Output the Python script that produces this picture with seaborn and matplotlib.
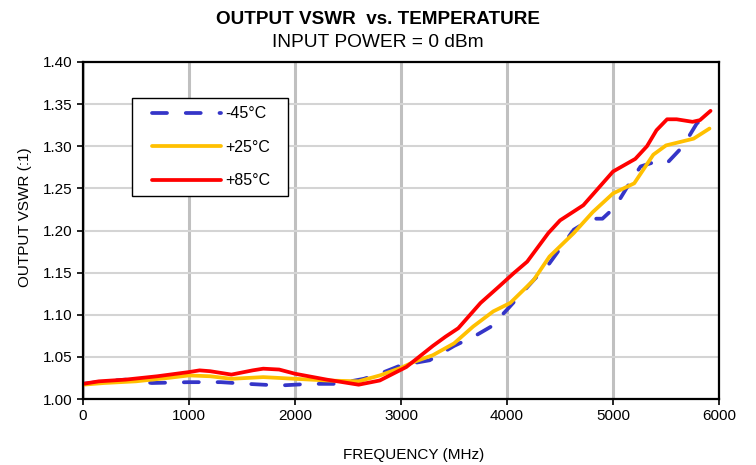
import seaborn as sns
import matplotlib.pyplot as plt
from matplotlib.patches import Rectangle
import pandas as pd

# frequency (MHz) and VSWR
freq_m45 = [0, 200, 400, 650, 1000, 1300, 1550, 1850, 2150, 2400, 2650, 2800, 3000, 3270, 3500,
            3700, 3850, 4000, 4250, 4400, 4630, 4800, 4900, 5020, 5150, 5260, 5410, 5510, 5660, 5790, 5910]
vswr_m45 = [1.018, 1.021, 1.023, 1.019, 1.020, 1.020, 1.018, 1.016, 1.018, 1.018, 1.024, 1.030, 1.040, 1.046, 1.063,
            1.075, 1.086, 1.106, 1.141, 1.161, 1.201, 1.214, 1.214, 1.228, 1.255, 1.276, 1.282, 1.280, 1.300, 1.327, 1.339]

freq_p25 = [0, 200, 500, 800, 1000, 1200, 1400, 1700, 2000, 2300, 2600, 2800, 3000, 3120, 3300, 3500,
            3680, 3870, 4030, 4250, 4400, 4630, 4810, 5000, 5200, 5380, 5500, 5760, 5910]
vswr_p25 = [1.017, 1.019, 1.021, 1.025, 1.028, 1.027, 1.024, 1.026, 1.024, 1.022, 1.021, 1.028, 1.037, 1.044, 1.052, 1.066,
            1.086, 1.104, 1.114, 1.141, 1.169, 1.197, 1.222, 1.244, 1.256, 1.290, 1.301, 1.309, 1.321]

freq_p85 = [0, 150, 400, 700, 1000, 1100, 1200, 1400, 1600, 1700, 1850, 2000, 2300, 2600, 2800, 3050,
            3300, 3420, 3540, 3750, 3920, 4060, 4190, 4390, 4500, 4720, 5000, 5210, 5320, 5410, 5510, 5600,
            5750, 5820, 5920]
vswr_p85 = [1.018, 1.021, 1.023, 1.027, 1.032, 1.034, 1.033, 1.029, 1.034, 1.036, 1.035, 1.030, 1.023, 1.017, 1.022, 1.038,
            1.063, 1.074, 1.084, 1.114, 1.133, 1.149, 1.163, 1.197, 1.212, 1.230, 1.270, 1.285, 1.300, 1.319, 1.332, 1.332,
            1.329, 1.331, 1.342]

labels = ['-45°C', '+25°C', '+85°C']
colors = ['#3535c8', '#ffc000', '#ff0000']

df = pd.concat([
    pd.DataFrame({'freq': freq_m45, 'vswr': vswr_m45, 'temp': labels[0]}),
    pd.DataFrame({'freq': freq_p25, 'vswr': vswr_p25, 'temp': labels[1]}),
    pd.DataFrame({'freq': freq_p85, 'vswr': vswr_p85, 'temp': labels[2]}),
])

sns.set_style('white')
plt.rcParams['font.family'] = ['Liberation Sans', 'DejaVu Sans']
plt.rcParams['text.color'] = 'black'
plt.rcParams['axes.labelcolor'] = 'black'
plt.rcParams['xtick.color'] = 'black'
plt.rcParams['ytick.color'] = 'black'

fig = plt.figure(figsize=(7.56, 4.65), dpi=100)
ax = fig.add_axes([0.1098, 0.1419, 0.8413, 0.7248])

ax.grid(True, axis='x', color='#c0c0c0', linewidth=2.2)
ax.grid(True, axis='y', color='#d4d4d4', linewidth=1.5)
ax.set_axisbelow(True)

sns.lineplot(data=df, x='freq', y='vswr', hue='temp', style='temp',
             palette=dict(zip(labels, colors)),
             dashes={labels[0]: (4, 5), labels[1]: '', labels[2]: ''},
             linewidth=2.7, ax=ax, sort=False)
for ln in ax.lines:
    ln.set_dash_capstyle('round')
    ln.set_solid_capstyle('round')

ax.set_xlim(0, 6000)
ax.set_ylim(1.00, 1.40)
ax.set_xticks(range(0, 6001, 1000))
ax.set_yticks([1.00 + 0.05 * i for i in range(9)])
ax.set_yticklabels([f'{1.00 + 0.05 * i:.2f}' for i in range(9)])
ax.tick_params(axis='both', direction='out', length=4, width=1.2, color='black',
               labelsize=11, bottom=True, left=True)

for sp in ax.spines.values():
    sp.set_visible(True)
    sp.set_color('black')
    sp.set_linewidth(1.6)

ax.set_xlabel('FREQUENCY (MHz)', fontsize=11, labelpad=17)
ax.set_ylabel('OUTPUT VSWR (:1)', fontsize=11, labelpad=8)
ax.xaxis.set_label_coords(0.52, -0.145)
ax.yaxis.label.set_y(0.54)

fig.text(0.5, 0.958, 'OUTPUT VSWR  vs. TEMPERATURE', ha='center', va='center',
         fontsize=13.6, fontweight='bold')
fig.text(0.5, 0.909, 'INPUT POWER = 0 dBm', ha='center', va='center', fontsize=13.8)

leg = ax.legend(loc='upper left', bbox_to_anchor=(0.109, 0.868), borderaxespad=0,
                frameon=False, fontsize=11.5, handlelength=4.3,
                labelspacing=1.15, borderpad=0.0, handletextpad=0.25)
leg.set_title(None)
leg.set_zorder(6)

# legend box with wider side padding, like the original
fig.canvas.draw()
bb = leg.get_window_extent().transformed(fig.transFigure.inverted())
padx0, padx1, pady = 20 / 756, 18 / 756, 8 / 465
ax.add_patch(Rectangle((bb.x0 - padx0, bb.y0 - pady),
                       bb.width + padx0 + padx1, bb.height + 2 * pady,
                       transform=fig.transFigure, facecolor='white',
                       edgecolor='black', linewidth=1.0, zorder=5, clip_on=False))

fig.savefig('out.png', dpi=100, facecolor='white')
